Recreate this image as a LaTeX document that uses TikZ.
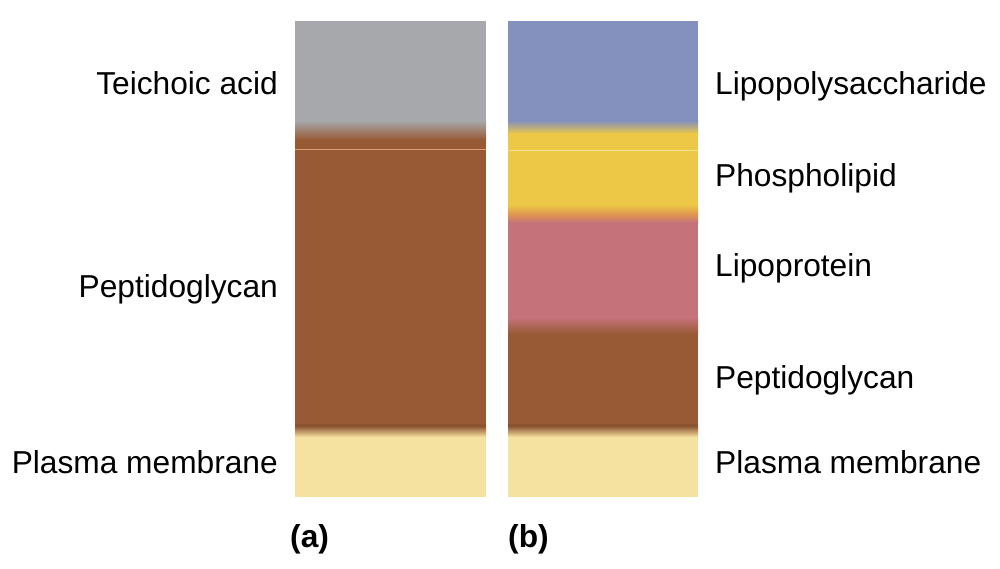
\documentclass[tikz,border=0pt]{standalone}
\usepackage{fontspec}
\setmainfont{Liberation Sans}
\definecolor{cgray}{HTML}{A6A8AB}
\definecolor{cblue}{HTML}{8490BE}
\definecolor{cyel}{HTML}{ECC846}
\definecolor{cpink}{HTML}{C5737A}
\definecolor{cbrown}{HTML}{985A35}
\definecolor{clight}{HTML}{F6E2A0}
\definecolor{corange}{HTML}{D9A070}
\tikzset{
  lbl/.style={font=\fontsize{31.7}{36}\selectfont, inner sep=0pt},
  tag/.style={font=\fontsize{31.7}{36}\selectfont\bfseries, inner sep=0pt},
}
\begin{document}
\begin{tikzpicture}[x=1pt,y=-1pt]
\useasboundingbox[fill=white] (0,0) rectangle (1000,569);
% ---- column (a)
\fill[cgray] (295,21) rectangle (486,121);
\shade[top color=cgray, bottom color=cbrown] (295,120.5) rectangle (486,140);
\fill[cbrown] (295,139.5) rectangle (486,424);
\fill[cbrown!92!black] (295,423.5) rectangle (486,426.5);
\shade[top color=cbrown!92!black, bottom color=clight] (295,426) rectangle (486,437);
\fill[clight] (295,436.5) rectangle (486,497);
\draw[corange, line width=1pt] (295,150) -- (486,150);
% ---- column (b)
\fill[cblue] (508,21) rectangle (698,121);
\shade[top color=cblue, bottom color=cyel] (508,120.5) rectangle (698,134);
\fill[cyel] (508,133.5) rectangle (698,205);
\shade[top color=cyel, bottom color=cpink, middle color=cyel!50!cpink!80!orange] (508,204.5) rectangle (698,223);
\fill[cpink] (508,222.5) rectangle (698,318);
\shade[top color=cpink, bottom color=cbrown] (508,317.5) rectangle (698,334);
\fill[cbrown] (508,333.5) rectangle (698,424);
\fill[cbrown!92!black] (508,423.5) rectangle (698,426.5);
\shade[top color=cbrown!92!black, bottom color=clight] (508,426) rectangle (698,437);
\fill[clight] (508,436.5) rectangle (698,497);
\draw[cyel!60!white, line width=1pt] (508,151) -- (698,151);
% ---- labels (a)
\node[lbl, anchor=base east] (teich) at (278,95) {Teichoic acid};
\node[lbl, anchor=base east] (pepa) at (278,297) {Peptidoglycan};
\node[lbl, anchor=base east] (pma) at (278,473) {Plasma membrane};
% ---- labels (b)
\node[lbl, anchor=base west] (lps) at (715,95) {Lipopolysaccharide};
\node[lbl, anchor=base west] (phos) at (715,187) {Phospholipid};
\node[lbl, anchor=base west] (lipo) at (715,276) {Lipoprotein};
\node[lbl, anchor=base west] (pepb) at (715,388) {Peptidoglycan};
\node[lbl, anchor=base west] (pmb) at (715,473) {Plasma membrane};
% ---- tags
\node[tag, anchor=base west] (ta) at (290,547) {(a)};
\node[tag, anchor=base west] (tb) at (508,547) {(b)};
\end{tikzpicture}
\end{document}
